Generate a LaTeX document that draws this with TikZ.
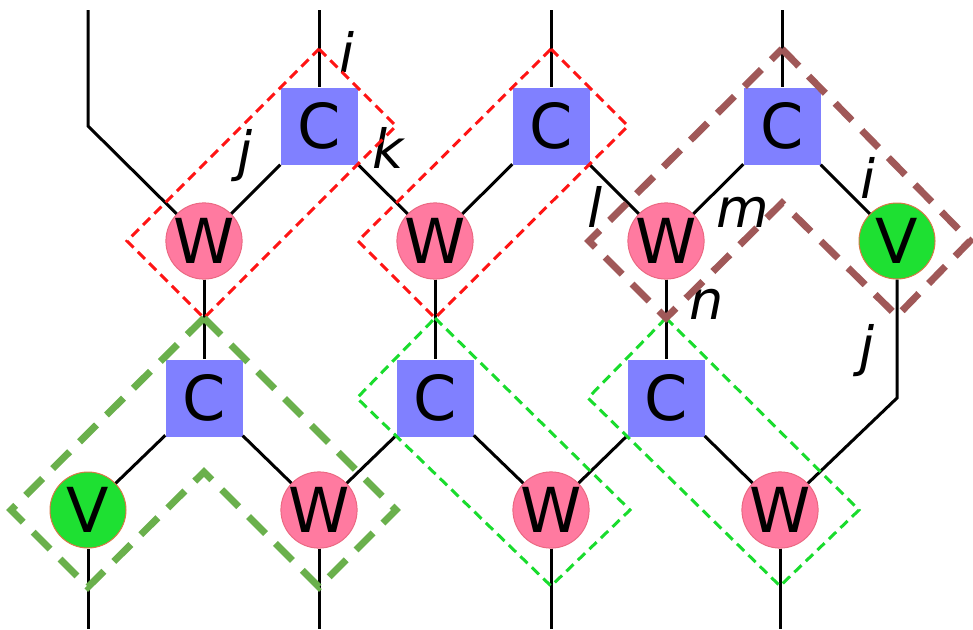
\documentclass[tikz,border=0pt]{standalone}
\usepackage{fontspec}
\setmainfont{DejaVu Sans}
\usetikzlibrary{calc}

\definecolor{cblue}{RGB}{128,128,255}
\definecolor{wpink}{RGB}{255,122,160}
\definecolor{wedge}{RGB}{235,105,130}
\definecolor{vgreen}{RGB}{30,224,50}
\definecolor{vedge}{RGB}{215,120,70}
\definecolor{redbox}{RGB}{255,20,20}
\definecolor{limebox}{RGB}{25,220,45}
\definecolor{olivebox}{RGB}{106,176,76}
\definecolor{brownbox}{RGB}{160,88,88}

\tikzset{
  cbox/.style={rectangle, fill=cblue, minimum size=77pt, inner sep=0pt,
    font=\fontsize{62}{62}\selectfont},
  wnode/.style={circle, fill=wpink, draw=wedge, line width=1pt,
    minimum size=76pt, inner sep=0pt, font=\fontsize{62}{62}\selectfont},
  vnode/.style={wnode, fill=vgreen, draw=vedge},
  leg/.style={line width=3pt},
  lbl/.style={font=\fontsize{54}{54}\selectfont\itshape, inner sep=0pt},
  thinbox/.style={line width=3pt, dash pattern=on 10pt off 6pt},
  thickbox/.style={line width=7pt, dash pattern=on 24pt off 14pt}
}

\begin{document}
\begin{tikzpicture}[x=1pt, y=-1pt]
\useasboundingbox (0,0) rectangle (973,629);

% Upper row
\node[cbox] (c1) at (319,126) {C};
\node[cbox] (c2) at (551,126) {C};
\node[cbox] (c3) at (782,126) {C};
\node[wnode] (w1) at (204,241) {W};
\node[wnode] (w2) at (435,241) {W};
\node[wnode] (w3) at (666,241) {W};
\node[vnode] (v1) at (897,241) {V};

% Lower row
\node[cbox] (c4) at (204,398) {C};
\node[cbox] (c5) at (435,398) {C};
\node[cbox] (c6) at (666,398) {C};
\node[vnode] (v2) at (88,510) {V};
\node[wnode] (w4) at (319,510) {W};
\node[wnode] (w5) at (551,510) {W};
\node[wnode] (w6) at (780,510) {W};

% Free leg ends
\coordinate (t0) at (88,10);
\coordinate (k0) at (88,126);
\coordinate (k1) at (897,398);
\foreach \n/\x in {1/319,2/551,3/782}
  \coordinate (t\n) at (\x,10);
\foreach \n/\x in {1/88,2/319,3/551,4/780}
  \coordinate (e\n) at (\x,629);

% Legs
\draw[leg] (t0) -- (k0) -- (w1);
\foreach \n in {1,2,3}
  \draw[leg] (t\n) -- (c\n);
\draw[leg] (w1) -- (c1) -- (w2) -- (c2) -- (w3) -- (c3) -- (v1);
\draw[leg] (w1) -- (c4);
\draw[leg] (w2) -- (c5);
\draw[leg] (w3) -- (c6);
\draw[leg] (v1) -- (k1) -- (w6);
\draw[leg] (v2) -- (c4) -- (w4) -- (c5) -- (w5) -- (c6) -- (w6);
\draw[leg] (v2) -- (e1);
\draw[leg] (w4) -- (e2);
\draw[leg] (w5) -- (e3);
\draw[leg] (w6) -- (e4);

% Labels
\node[lbl] (li1) at (347,52) {i};
\node[lbl] (lj1) at (245,156) {j};
\node[lbl] (lk) at (388,148) {k};
\node[lbl] (ll) at (595,207) {l};
\node[lbl] (lm) at (743,212) {m};
\node[lbl] (li2) at (868,178) {i};
\node[lbl] (ln) at (707,304) {n};
\node[lbl] (lj2) at (867,351) {j};

% Red boxes
\foreach \c/\w in {c1/w1,c2/w2}
  \draw[thinbox, redbox] ($(\c)+(0,-77)$) -- ($(\c)+(77,0)$)
    -- ($(\w)+(0,77)$) -- ($(\w)+(-77,0)$) -- cycle;

% Light green boxes
\foreach \c/\w in {c5/w5,c6/w6}
  \draw[thinbox, limebox] ($(\c)+(0,-80)$) -- ($(\w)+(79,0)$)
    -- ($(\w)+(0,76)$) -- ($(\c)+(-78,0)$) -- cycle;

% Olive region
\draw[thickbox, olivebox] ($(c4)+(0,-80)$) -- ($(w4)+(77,0)$)
  -- ($(w4)+(0,77)$) -- ($(c4)+(0,74)$) -- ($(v2)+(0,77)$)
  -- ($(v2)+(-77,0)$) -- cycle;

% Brown region
\draw[thickbox, brownbox] ($(c3)+(0,-77)$) -- ($(v1)+(73,0)$)
  -- ($(v1)+(0,75)$) -- ($(c3)+(0,77)$) -- ($(w3)+(0,77)$)
  -- ($(w3)+(-77,0)$) -- cycle;

\end{tikzpicture}
\end{document}
